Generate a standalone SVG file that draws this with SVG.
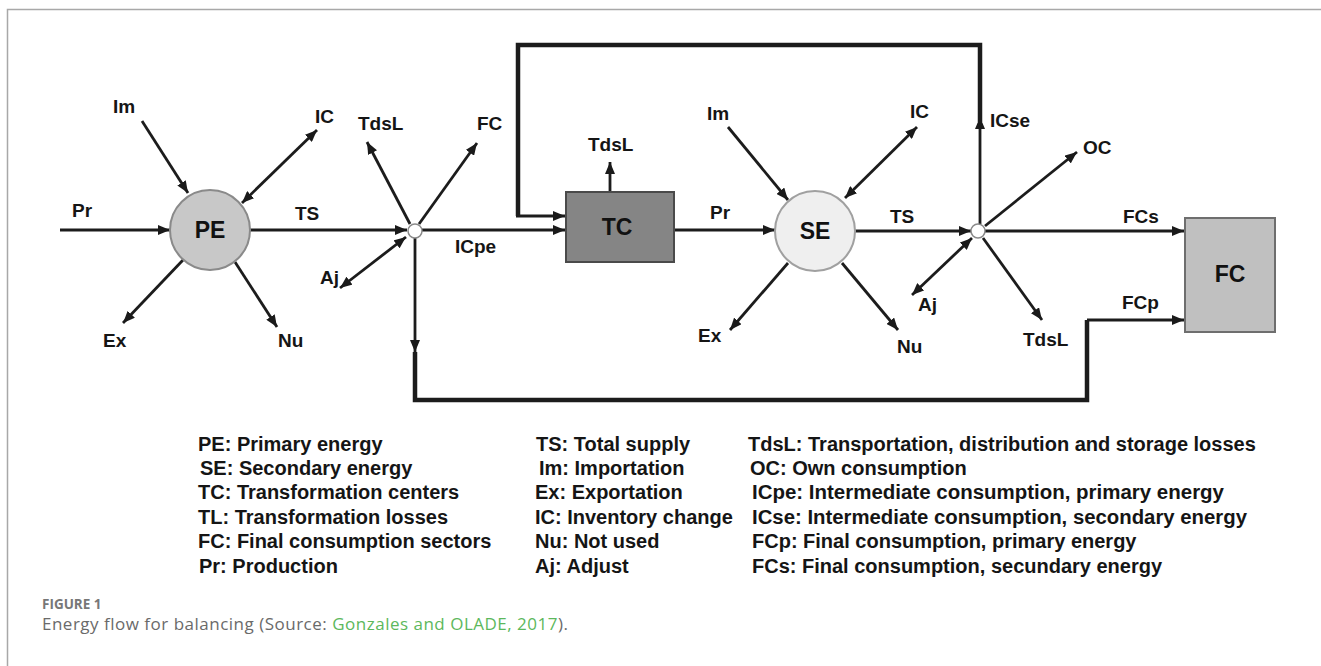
<svg xmlns="http://www.w3.org/2000/svg" width="1321" height="666" viewBox="0 0 1321 666">
<defs>
<marker id="arr" viewBox="0 0 12 10" refX="12" refY="5" markerWidth="12" markerHeight="10" markerUnits="userSpaceOnUse" orient="auto-start-reverse">
<path d="M0,0 L12,5 L0,10 z" fill="#1a1a1a"/>
</marker>
<style>
.ln{stroke:#1c1c1c;stroke-width:2.8;fill:none}
.thick{stroke:#1c1c1c;stroke-width:4.5;fill:none}
.a{marker-end:url(#arr)}
.d{marker-start:url(#arr);marker-end:url(#arr)}
.lb{font-family:"Liberation Sans",Arial,sans-serif;font-weight:bold;font-size:19px;fill:#151515}
.big{font-family:"Liberation Sans",Arial,sans-serif;font-weight:bold;font-size:23px;fill:#111;text-anchor:middle}
.lg{font-family:"Liberation Sans",Arial,sans-serif;font-weight:bold;font-size:20px;fill:#151515}
.jn{fill:#fff;stroke:#8a8a8a;stroke-width:1.5}
</style>
</defs>
<rect width="1321" height="666" fill="#fff"/>
<path d="M7.5,666 V9.5 H1321" fill="none" stroke="#a8a8a8" stroke-width="1.5"/>

<g id="connectors">
<line class="ln a" x1="60" y1="230" x2="170" y2="230"/>
<line class="ln a" x1="142" y1="121" x2="188" y2="193"/>
<line class="ln d" x1="317" y1="130" x2="242" y2="203"/>
<line class="ln a" x1="183" y1="260" x2="123" y2="323"/>
<line class="ln a" x1="235" y1="262" x2="277" y2="327"/>
<line class="ln a" x1="250" y1="230" x2="407" y2="230"/>
<line class="ln a" x1="410" y1="224" x2="367" y2="142"/>
<line class="ln a" x1="419" y1="224" x2="477" y2="143"/>
<line class="ln d" x1="406" y1="237" x2="340" y2="288"/>
<line class="ln a" x1="422" y1="230" x2="565" y2="230"/>
<line class="ln a" x1="415" y1="238" x2="415" y2="352"/>
<path class="thick" d="M415,352 V400 H1087 V320"/>
<line class="ln a" x1="1087" y1="320" x2="1184" y2="320"/>
<line class="ln a" x1="610" y1="192" x2="610" y2="162"/>
<line class="ln a" x1="674" y1="230" x2="775" y2="230"/>
<line class="ln a" x1="728" y1="127" x2="788" y2="200"/>
<line class="ln d" x1="917" y1="127" x2="845" y2="198"/>
<line class="ln a" x1="788" y1="263" x2="730" y2="330"/>
<line class="ln a" x1="842" y1="263" x2="898" y2="330"/>
<line class="ln a" x1="855" y1="231" x2="971" y2="231"/>
<line class="ln a" x1="980" y1="224" x2="980" y2="117"/>
<path class="thick" d="M980,122 V45 H518 V216"/>
<line class="ln a" x1="516" y1="216" x2="565" y2="216"/>
<line class="ln a" x1="985" y1="226" x2="1077" y2="152"/>
<line class="ln a" x1="985" y1="231" x2="1184" y2="231"/>
<line class="ln d" x1="972" y1="238" x2="912" y2="295"/>
<line class="ln a" x1="983" y1="238" x2="1042" y2="320"/>
</g>

<g id="PE">
<circle cx="210" cy="230" r="40" fill="#c8c8c8" stroke="#8a8a8a" stroke-width="2"/>
<text class="big" x="210" y="238">PE</text>
</g>
<g id="J1"><circle class="jn" cx="415" cy="231" r="7"/></g>
<g id="TC">
<rect x="566" y="192" width="108" height="70" fill="#858585" stroke="#4a4a4a" stroke-width="2"/>
<text class="big" x="617" y="235">TC</text>
</g>
<g id="SE">
<circle cx="815" cy="231" r="40" fill="#efefef" stroke="#a0a0a0" stroke-width="2"/>
<text class="big" x="815" y="239">SE</text>
</g>
<g id="J2"><circle class="jn" cx="978" cy="231" r="7"/></g>
<g id="FC">
<rect x="1185" y="218" width="90" height="114" fill="#c0c0c0" stroke="#6e6e6e" stroke-width="2"/>
<text class="big" x="1230" y="282">FC</text>
</g>

<g id="labels">
<text class="lb" x="72" y="217">Pr</text>
<text class="lb" x="113" y="113">Im</text>
<text class="lb" x="315" y="123">IC</text>
<text class="lb" x="295" y="220">TS</text>
<text class="lb" x="103" y="347">Ex</text>
<text class="lb" x="278" y="347">Nu</text>
<text class="lb" x="320" y="284">Aj</text>
<text class="lb" x="358" y="130">TdsL</text>
<text class="lb" x="477" y="130">FC</text>
<text class="lb" x="455" y="253">ICpe</text>
<text class="lb" x="588" y="151">TdsL</text>
<text class="lb" x="710" y="219">Pr</text>
<text class="lb" x="707" y="120">Im</text>
<text class="lb" x="910" y="118">IC</text>
<text class="lb" x="698" y="342">Ex</text>
<text class="lb" x="897" y="353">Nu</text>
<text class="lb" x="890" y="223">TS</text>
<text class="lb" x="990" y="127">ICse</text>
<text class="lb" x="1083" y="154">OC</text>
<text class="lb" x="1123" y="223">FCs</text>
<text class="lb" x="1122" y="309">FCp</text>
<text class="lb" x="918" y="311">Aj</text>
<text class="lb" x="1023" y="346">TdsL</text>
</g>

<g id="legend">
<text class="lg" x="198" y="451">PE: Primary energy</text>
<text class="lg" x="200" y="475">SE: Secondary energy</text>
<text class="lg" x="198" y="499">TC: Transformation centers</text>
<text class="lg" x="198" y="524">TL: Transformation losses</text>
<text class="lg" x="198" y="548">FC: Final consumption sectors</text>
<text class="lg" x="199" y="573">Pr: Production</text>
<text class="lg" x="536" y="451">TS: Total supply</text>
<text class="lg" x="539" y="475">Im: Importation</text>
<text class="lg" x="535" y="499">Ex: Exportation</text>
<text class="lg" x="535" y="524">IC: Inventory change</text>
<text class="lg" x="535" y="548">Nu: Not used</text>
<text class="lg" x="535" y="573">Aj: Adjust</text>
<text class="lg" x="748" y="451">TdsL: Transportation, distribution and storage losses</text>
<text class="lg" x="750" y="475">OC: Own consumption</text>
<text class="lg" x="752" y="499" textLength="472" lengthAdjust="spacingAndGlyphs">ICpe: Intermediate consumption, primary energy</text>
<text class="lg" x="752" y="524" textLength="495" lengthAdjust="spacingAndGlyphs">ICse: Intermediate consumption, secondary energy</text>
<text class="lg" x="752" y="548">FCp: Final consumption, primary energy</text>
<text class="lg" x="752" y="573">FCs: Final consumption, secundary energy</text>
</g>

<g id="caption">
<text x="42" y="609" font-family="'Open Sans',Lato,sans-serif" font-weight="bold" font-size="13.5" fill="#777">FIGURE 1</text>
<text x="42" y="630" font-family="'Open Sans',Lato,sans-serif" font-size="17" letter-spacing="0.5" fill="#6a6a6a">Energy flow for balancing (Source: <tspan fill="#5cb85c">Gonzales and OLADE, 2017</tspan>).</text>
</g>
</svg>
